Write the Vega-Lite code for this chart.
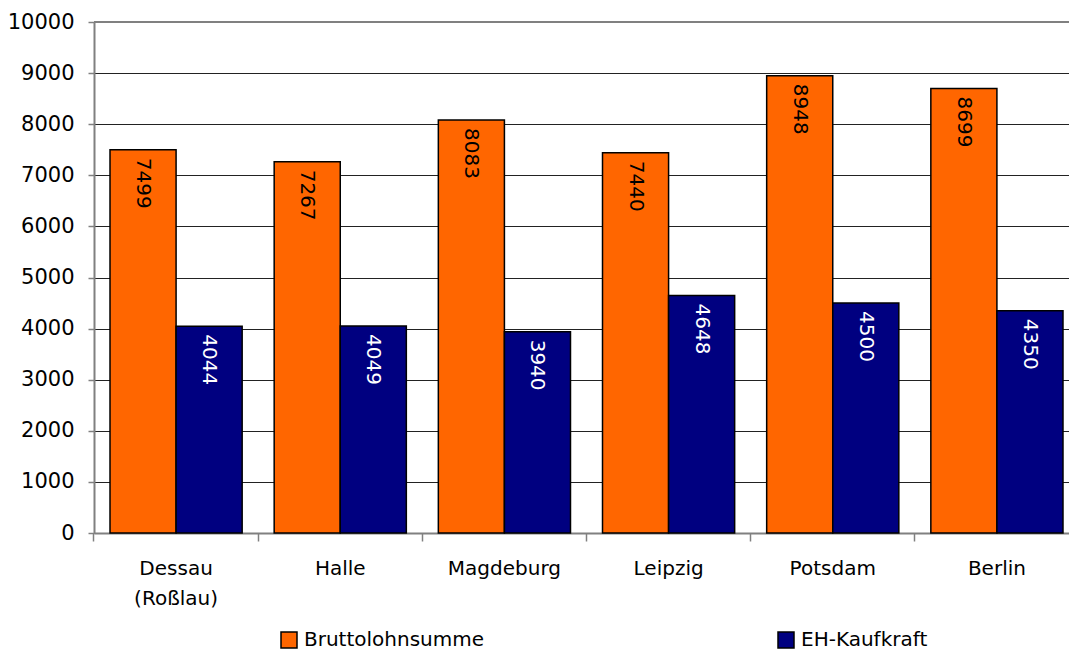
{
  "$schema": "https://vega.github.io/schema/vega-lite/v6.json",
  "autosize": {"type": "none"},
  "width": 975,
  "height": 511,
  "padding": {"left": 94, "top": 22, "right": 0, "bottom": 119},
  "background": "white",
  "config": {
    "view": {"stroke": null},
    "font": "DejaVu Sans"
  },
  "data": {
    "values": [
      {"city": "Dessau (Roßlau)", "series": "Bruttolohnsumme", "value": 7499},
      {"city": "Dessau (Roßlau)", "series": "EH-Kaufkraft", "value": 4044},
      {"city": "Halle", "series": "Bruttolohnsumme", "value": 7267},
      {"city": "Halle", "series": "EH-Kaufkraft", "value": 4049},
      {"city": "Magdeburg", "series": "Bruttolohnsumme", "value": 8083},
      {"city": "Magdeburg", "series": "EH-Kaufkraft", "value": 3940},
      {"city": "Leipzig", "series": "Bruttolohnsumme", "value": 7440},
      {"city": "Leipzig", "series": "EH-Kaufkraft", "value": 4648},
      {"city": "Potsdam", "series": "Bruttolohnsumme", "value": 8948},
      {"city": "Potsdam", "series": "EH-Kaufkraft", "value": 4500},
      {"city": "Berlin", "series": "Bruttolohnsumme", "value": 8699},
      {"city": "Berlin", "series": "EH-Kaufkraft", "value": 4350}
    ]
  },
  "encoding": {
    "x": {
      "field": "city",
      "type": "nominal",
      "sort": null,
      "scale": {"range": [0, 985], "paddingInner": 0.195, "paddingOuter": 0.0975},
      "axis": {
        "title": null,
        "labelAngle": 0,
        "labelFont": "DejaVu Sans",
        "labelFontSize": 20,
        "labelColor": "black",
        "labelPadding": 17,
        "labelExpr": "split(datum.value, ' ')",
        "labelLineHeight": 30,
        "labelBaseline": "top",
        "tickSize": 8,
        "tickColor": "#808080",
        "tickWidth": 1.5,
        "bandPosition": -0.1212,
        "domainColor": "#808080",
        "domainWidth": 2
      }
    },
    "xOffset": {"field": "series", "sort": ["Bruttolohnsumme", "EH-Kaufkraft"]},
    "y": {
      "field": "value",
      "type": "quantitative",
      "scale": {"domain": [0, 10000], "nice": false},
      "axis": {
        "title": null,
        "values": [0, 1000, 2000, 3000, 4000, 5000, 6000, 7000, 8000, 9000, 10000],
        "format": "d",
        "labelFont": "DejaVu Sans",
        "labelFontSize": 21,
        "labelColor": "black",
        "labelPadding": 14,
        "tickSize": 6,
        "tickColor": "#808080",
        "tickWidth": 1.5,
        "domainColor": "#808080",
        "domainWidth": 2,
        "grid": true,
        "gridColor": "#222222",
        "gridWidth": 1
      }
    }
  },
  "layer": [
    {
      "mark": {"type": "bar", "stroke": "black", "strokeWidth": 1.5},
      "encoding": {
        "color": {
          "field": "series",
          "type": "nominal",
          "sort": ["Bruttolohnsumme", "EH-Kaufkraft"],
          "scale": {"domain": ["Bruttolohnsumme", "EH-Kaufkraft"], "range": ["#FF6600", "#000080"]},
          "legend": {
            "title": null,
            "orient": "none",
            "direction": "horizontal",
            "columns": 2,
            "legendX": 185,
            "legendY": 608,
            "symbolType": "square",
            "symbolSize": 256,
            "symbolStrokeColor": "black",
            "symbolStrokeWidth": 1.5,
            "labelFont": "DejaVu Sans",
            "labelFontSize": 20,
            "labelColor": "black",
            "labelOffset": 5,
            "labelLimit": 400,
            "columnPadding": 290
          }
        }
      }
    },
    {
      "mark": {"type": "text", "angle": 90, "align": "left", "baseline": "middle", "dx": 8, "fontSize": 20, "font": "DejaVu Sans"},
      "encoding": {
        "text": {"field": "value", "type": "quantitative", "format": "d"},
        "color": {"condition": {"test": "datum.series === 'EH-Kaufkraft'", "value": "white"}, "value": "black"}
      }
    },
    {
      "data": {"values": [{"top": 10000}]},
      "mark": {"type": "rule", "color": "#808080", "strokeWidth": 2},
      "encoding": {"y": {"field": "top", "type": "quantitative"}, "x": null, "xOffset": null}
    }
  ]
}
